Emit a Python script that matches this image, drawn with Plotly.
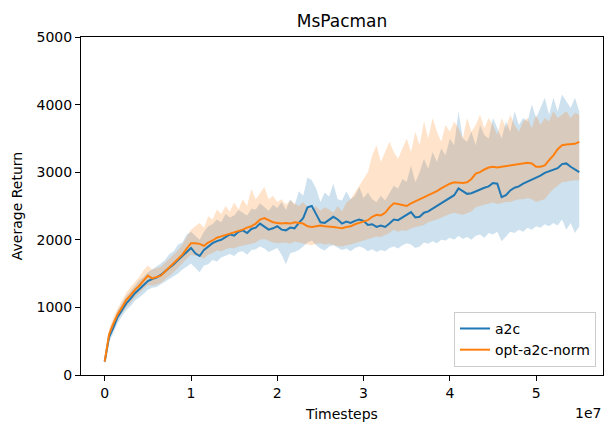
import plotly.graph_objects as go

# timesteps in units of 1e6 (0 .. 55 step 0.5)
steps_m = [i * 0.5 for i in range(111)]

a2c_mean = [200, 560, 700, 860, 960, 1060, 1130, 1210, 1270, 1330,
            1390, 1420, 1440, 1480, 1530, 1590, 1640, 1700, 1760, 1820,
            1880, 1800, 1760, 1850, 1900, 1950, 1980, 2000, 2040, 2080,
            2060, 2120, 2140, 2100, 2160, 2180, 2240, 2200, 2150, 2170,
            2200, 2150, 2140, 2180, 2170, 2250, 2320, 2480, 2500, 2380,
            2260, 2250, 2300, 2340, 2300, 2240, 2270, 2250, 2280, 2300,
            2280, 2220, 2230, 2190, 2210, 2190, 2240, 2300, 2290, 2330,
            2380, 2410, 2330, 2340, 2400, 2420, 2460, 2500, 2530, 2580,
            2610, 2660, 2760, 2720, 2680, 2690, 2720, 2750, 2770, 2790,
            2840, 2830, 2630, 2660, 2730, 2770, 2790, 2830, 2860, 2880,
            2920, 2950, 2990, 3010, 3040, 3060, 3120, 3130, 3080, 3040,
            3000]

a2c_upper = [230, 640, 790, 950, 1060, 1170, 1240, 1320, 1400, 1450,
             1520, 1560, 1600, 1650, 1700, 1790, 1830, 1930, 1960, 2080,
             2120, 2060, 2000, 2120, 2200, 2230, 2300, 2260, 2380, 2330,
             2360, 2440, 2400, 2360, 2460, 2450, 2540, 2480, 2430, 2520,
             2470, 2560, 2440, 2600, 2510, 2720, 2650, 2920, 2880, 2760,
             2560, 2700, 2640, 2830, 2600, 2580, 2720, 2600, 2650, 2780,
             2620, 2700, 2600, 2560, 2650, 2580, 2700, 2800, 2760, 2900,
             2860, 3100, 2850, 3000, 3200, 3050, 3300, 3150, 3350, 3250,
             3500, 3400, 3900, 3500, 3450, 3600, 3400, 3700, 3550, 3500,
             3800, 3650, 3500, 3750, 3600, 3900, 3700, 3800, 3750, 4000,
             3800, 3950, 4100, 3850, 4100, 3900, 4150, 4050, 3950, 4100,
             3900]

a2c_lower = [170, 480, 620, 770, 870, 960, 1020, 1100, 1150, 1200,
             1260, 1290, 1300, 1330, 1380, 1420, 1460, 1500, 1560, 1600,
             1650, 1580, 1520, 1620, 1640, 1700, 1680, 1740, 1760, 1790,
             1760, 1820, 1830, 1780, 1850, 1860, 1900, 1870, 1820, 1850,
             1880, 1780, 1640, 1800, 1820, 1850, 1900, 1960, 1990, 1920,
             1870, 1840, 1900, 1920, 1880, 1850, 1870, 1830, 1880, 1900,
             1880, 1830, 1860, 1820, 1850, 1830, 1880, 1900, 1870, 1920,
             1950, 1930, 1880, 1900, 1960, 1940, 1980, 1950, 2000, 1990,
             2030, 2000, 2060, 2010, 2040, 2000, 2060, 2080, 2030, 2100,
             2080, 2120, 1980, 2050, 2120, 2100, 2150, 2120, 2180, 2150,
             2200, 2180, 2230, 2200, 2250, 2210, 2300, 2150, 2250, 2100,
             2200]

opt_mean = [200, 600, 760, 900, 1000, 1110, 1180, 1260, 1320, 1400,
            1470, 1430, 1450, 1470, 1530, 1590, 1650, 1710, 1780, 1870,
            1950, 1950, 1940, 1910, 1960, 1990, 2030, 2050, 2070, 2090,
            2100, 2120, 2150, 2180, 2200, 2240, 2300, 2320, 2290, 2260,
            2250, 2240, 2250, 2240, 2260, 2250, 2240, 2200, 2190, 2200,
            2210, 2200, 2200, 2190, 2180, 2170, 2190, 2200, 2230, 2250,
            2260, 2290, 2340, 2370, 2360, 2400, 2480, 2540, 2530, 2510,
            2500, 2540, 2570, 2600, 2620, 2660, 2690, 2720, 2760, 2800,
            2830, 2850, 2840, 2840, 2850, 2900, 2980, 3000, 3040, 3070,
            3080, 3070, 3080, 3090, 3100, 3120, 3130, 3130, 3140, 3130,
            3080, 3080, 3100, 3180, 3250, 3340, 3400, 3410, 3410, 3420,
            3450]

opt_upper = [240, 680, 850, 990, 1100, 1220, 1300, 1380, 1450, 1550,
             1620, 1560, 1580, 1600, 1660, 1720, 1780, 1850, 1930, 2050,
             2150, 2200, 2250, 2180, 2350, 2300, 2450, 2380, 2500, 2420,
             2550, 2450, 2600, 2500, 2750, 2600, 2700, 2780, 2600, 2650,
             2560, 2600, 2520, 2580, 2540, 2500, 2560, 2480, 2450, 2500,
             2430, 2480, 2450, 2400, 2500, 2420, 2550, 2600, 2700, 2800,
             2900, 3000, 3250, 3400, 3150, 3300, 3450, 3300, 3200, 3350,
             3500, 3300, 3600, 3400, 3750, 3500, 3800, 3600, 3450, 3700,
             3600, 3750, 3650, 3500, 3800, 3600, 3700, 3850, 3650, 3800,
             3700, 3550, 3800, 3650, 3850, 3700, 3600, 3750, 3800, 3650,
             3850, 3700, 3800, 3750, 3900, 3800, 3850, 3900, 3800, 3880,
             3850]

opt_lower = [160, 520, 680, 820, 910, 1010, 1070, 1150, 1200, 1270,
             1330, 1320, 1340, 1360, 1420, 1470, 1520, 1580, 1650, 1720,
             1780, 1760, 1750, 1720, 1780, 1800, 1840, 1830, 1860, 1880,
             1870, 1900, 1920, 1930, 1940, 1960, 2000, 2010, 1980, 1960,
             1950, 1950, 1960, 1940, 1970, 1960, 1950, 1930, 1920, 1940,
             1950, 1930, 1940, 1920, 1910, 1900, 1920, 1930, 1950, 1970,
             1980, 2000, 2030, 2050, 2040, 2070, 2100, 2150, 2120, 2140,
             2130, 2170, 2180, 2200, 2220, 2260, 2280, 2300, 2330, 2350,
             2380, 2400, 2380, 2370, 2400, 2420, 2480, 2500, 2520, 2540,
             2550, 2530, 2540, 2560, 2560, 2580, 2600, 2600, 2620, 2600,
             2560, 2580, 2600, 2680, 2750, 2800, 2850, 2860, 2870, 2880,
             2880]

x_tick_vals = [0, 1, 2, 3, 4, 5]
y_tick_vals = [0, 1000, 2000, 3000, 4000, 5000]

BLUE = "#1f77b4"
ORANGE = "#ff7f0e"

x = [s * 1e6 for s in steps_m]

fig = go.Figure()


def band(upper, lower, color):
    return go.Scatter(
        x=x + x[::-1], y=upper + lower[::-1], fill="toself",
        fillcolor=color, line=dict(width=0), mode="lines",
        hoverinfo="skip", showlegend=False)


fig.add_trace(band(a2c_upper, a2c_lower, "rgba(31,119,180,0.22)"))
fig.add_trace(band(opt_upper, opt_lower, "rgba(255,127,14,0.22)"))
fig.add_trace(go.Scatter(x=x, y=a2c_mean, mode="lines", name="a2c",
                         line=dict(color=BLUE, width=2)))
fig.add_trace(go.Scatter(x=x, y=opt_mean, mode="lines", name="opt-a2c-norm",
                         line=dict(color=ORANGE, width=2)))

axis_common = dict(showline=True, linecolor="black", linewidth=1, mirror=True,
                   ticks="outside", ticklen=5, tickwidth=1, tickcolor="black",
                   showgrid=False, zeroline=False,
                   tickfont=dict(family="DejaVu Sans", size=14, color="black"))

fig.update_layout(
    width=605, height=423,
    margin=dict(l=81, r=2, t=37, b=48),
    paper_bgcolor="white", plot_bgcolor="white",
    font=dict(family="DejaVu Sans", color="black"),
    title=dict(text="MsPacman", x=0.5, xref="paper", y=0.95, yref="container",
               yanchor="middle", font=dict(size=17, color="black")),
    xaxis=dict(range=[-0.275e7, 5.775e7],
               tickvals=[v * 1e7 for v in x_tick_vals],
               ticktext=[str(v) for v in x_tick_vals],
               title=dict(text="Timesteps", standoff=9,
                          font=dict(size=14, color="black")),
               **axis_common),
    yaxis=dict(range=[0, 5000], tickvals=y_tick_vals,
               ticktext=[str(v) for v in y_tick_vals],
               title=dict(text="Average Return", standoff=10,
                          font=dict(size=14, color="black")),
               **axis_common),
    legend=dict(x=0.9866, y=0.024, xanchor="right", yanchor="bottom",
                bgcolor="rgba(255,255,255,0.8)", bordercolor="#cccccc",
                borderwidth=1, font=dict(size=14, color="black"),
                tracegroupgap=0, entrywidth=128, entrywidthmode="pixels"),
    annotations=[dict(text="1e7", x=1.0, y=-0.112, xref="paper", yref="paper",
                      xanchor="right", yanchor="middle", showarrow=False,
                      font=dict(size=14, color="black"))],
)

fig.write_html("out.html",
               config={"displayModeBar": False},
               post_script="document.body.style.margin='0px';"
                           "document.body.style.padding='0px';")
